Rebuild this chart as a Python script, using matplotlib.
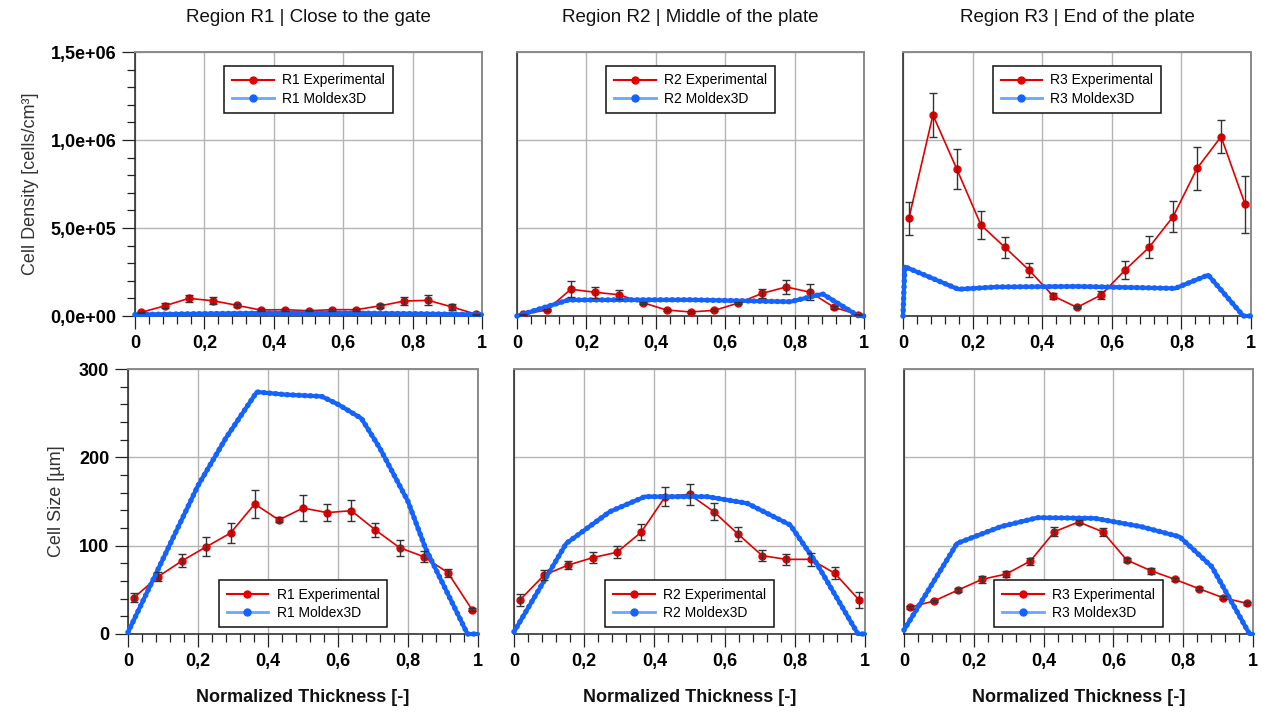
import matplotlib
matplotlib.use("Agg")
import matplotlib.pyplot as plt
from matplotlib.lines import Line2D
from matplotlib.ticker import MultipleLocator, FuncFormatter

plt.rcParams['font.family'] = ['Liberation Sans', 'DejaVu Sans']

# ---------------------------------------------------------------- data
regions = ["R1", "R2", "R3"]
titles = ["Region R1 | Close to the gate",
          "Region R2 | Middle of the plate",
          "Region R3 | End of the plate"]

# normalized thickness of the 15 measurement positions
x_exp = [0.017, 0.086, 0.155, 0.224, 0.293, 0.362, 0.431, 0.500,
         0.569, 0.638, 0.707, 0.776, 0.845, 0.914, 0.983]

# cell density, experimental [cells/cm3]
dens_exp_R1 = [0.020e6, 0.058e6, 0.100e6, 0.087e6, 0.061e6, 0.034e6, 0.036e6, 0.030e6,
               0.036e6, 0.036e6, 0.058e6, 0.085e6, 0.089e6, 0.051e6, 0.010e6]
dens_err_R1 = [0.005e6, 0.014e6, 0.020e6, 0.019e6, 0.010e6, 0.005e6, 0.005e6, 0.004e6,
               0.005e6, 0.005e6, 0.012e6, 0.021e6, 0.028e6, 0.017e6, 0.003e6]
dens_exp_R2 = [0.010e6, 0.034e6, 0.152e6, 0.135e6, 0.121e6, 0.076e6, 0.034e6, 0.023e6,
               0.032e6, 0.074e6, 0.129e6, 0.165e6, 0.135e6, 0.049e6, 0.008e6]
dens_err_R2 = [0.004e6, 0.006e6, 0.045e6, 0.032e6, 0.027e6, 0.006e6, 0.005e6, 0.004e6,
               0.005e6, 0.006e6, 0.025e6, 0.042e6, 0.045e6, 0.008e6, 0.003e6]
dens_exp_R3 = [0.555e6, 1.142e6, 0.833e6, 0.517e6, 0.390e6, 0.261e6, 0.114e6, 0.049e6,
               0.119e6, 0.261e6, 0.390e6, 0.564e6, 0.839e6, 1.019e6, 0.635e6]
dens_err_R3 = [0.095e6, 0.125e6, 0.114e6, 0.081e6, 0.058e6, 0.038e6, 0.017e6, 0.005e6,
               0.022e6, 0.051e6, 0.062e6, 0.089e6, 0.122e6, 0.092e6, 0.161e6]

# cell size, experimental [um]
size_exp_R1 = [41.1, 64.9, 83.0, 98.8, 114.3, 147.2, 129.1, 142.6,
               137.4, 139.6, 117.7, 97.7, 87.5, 69.4, 27.5]
size_err_R1 = [5.3, 5.0, 7.4, 10.9, 11.7, 16.2, 2.8, 14.3,
               9.4, 12.1, 7.9, 8.9, 6.2, 4.7, 1.5]
size_exp_R2 = [38.5, 66.8, 78.1, 86.4, 92.5, 115.1, 155.5, 158.1,
               138.5, 113.2, 88.7, 84.5, 84.5, 68.7, 38.5]
size_err_R2 = [6.6, 5.7, 4.2, 6.2, 7.0, 9.2, 10.4, 12.1,
               9.4, 7.5, 6.2, 6.2, 7.5, 6.6, 8.9]
size_exp_R3 = [30.2, 37.4, 49.8, 61.9, 67.9, 82.6, 115.8, 126.8,
               115.8, 83.8, 71.7, 61.9, 51.3, 41.1, 34.7]
size_err_R3 = [1.5, 1.5, 2.0, 3.7, 3.4, 4.0, 5.1, 2.8,
               4.5, 2.8, 3.4, 2.0, 1.5, 1.5, 1.5]

# Moldex3D simulated profiles (vertices of the through-thickness curves)
dens_sim_x_R1 = [0.0, 0.15, 0.35, 0.65, 0.85, 1.0]
dens_sim_R1 = [0.008e6, 0.012e6, 0.016e6, 0.016e6, 0.012e6, 0.008e6]
dens_sim_x_R2 = [0.0, 0.148, 0.50, 0.787, 0.881, 0.984, 1.0]
dens_sim_R2 = [0.0, 0.091e6, 0.092e6, 0.081e6, 0.125e6, 0.0, 0.0]
dens_sim_x_R3 = [0.0, 0.005, 0.159, 0.27, 0.50, 0.782, 0.877, 0.978, 1.0]
dens_sim_R3 = [0.0, 0.280e6, 0.152e6, 0.165e6, 0.168e6, 0.157e6, 0.233e6, 0.0, 0.0]

size_sim_x_R1 = [0.0, 0.10, 0.20, 0.28, 0.368, 0.45, 0.553, 0.60, 0.667, 0.72, 0.80, 0.85, 0.97, 1.0]
size_sim_R1 = [2, 85, 168, 222, 274, 271, 269, 260, 244, 210, 150, 97, 0, 0]
size_sim_x_R2 = [0.0, 0.149, 0.273, 0.373, 0.55, 0.664, 0.787, 0.862, 0.98, 1.0]
size_sim_R2 = [2.6, 102.6, 138.5, 155.5, 155.5, 148, 123.4, 80, 0, 0]
size_sim_x_R3 = [0.0, 0.152, 0.277, 0.383, 0.546, 0.68, 0.79, 0.882, 0.99, 1.0]
size_sim_R3 = [4.5, 102.6, 121.5, 131.7, 131.0, 121.5, 110.0, 76.2, 0, 0]

dens_exp = [dens_exp_R1, dens_exp_R2, dens_exp_R3]
dens_err = [dens_err_R1, dens_err_R2, dens_err_R3]
size_exp = [size_exp_R1, size_exp_R2, size_exp_R3]
size_err = [size_err_R1, size_err_R2, size_err_R3]
dens_sim = [(dens_sim_x_R1, dens_sim_R1), (dens_sim_x_R2, dens_sim_R2), (dens_sim_x_R3, dens_sim_R3)]
size_sim = [(size_sim_x_R1, size_sim_R1), (size_sim_x_R2, size_sim_R2), (size_sim_x_R3, size_sim_R3)]

# ---------------------------------------------------------------- style
RED = '#e40000'
BLUE = '#1463ff'
BLUE_LIGHT = '#6aa6ff'
GRID = '#b4b4b4'
FRAME = '#8a8a8a'

W, H = 1261, 712
fig = plt.figure(figsize=(W / 100, H / 100), dpi=100)


def px_axes(left, top, right, bottom):
    return fig.add_axes([left / W, 1 - bottom / H, (right - left) / W, (bottom - top) / H])


top_boxes = [(135, 52, 482, 316), (517, 52, 864, 316), (903, 52, 1251, 316)]
bot_boxes = [(128, 369, 478, 634), (514, 369, 865, 634), (904, 369, 1253, 634)]


def fmt_x(v, pos):
    if abs(v) < 1e-9:
        return '0'
    if abs(v - 1) < 1e-9:
        return '1'
    return f'{v:.1f}'.replace('.', ',')


def fmt_sci(v, pos):
    return f'{v:.1e}'.replace('.', ',')


def style_axes(ax, ymax, ymajor, yminor, show_ylabels, yfmt):
    ax.set_xlim(0, 1)
    ax.set_ylim(0, ymax)
    ax.xaxis.set_major_locator(MultipleLocator(0.2))
    ax.xaxis.set_minor_locator(MultipleLocator(0.04))
    ax.yaxis.set_major_locator(MultipleLocator(ymajor))
    ax.yaxis.set_minor_locator(MultipleLocator(yminor))
    ax.xaxis.set_major_formatter(FuncFormatter(fmt_x))
    ax.grid(True, which='major', color=GRID, lw=1.0)
    ax.set_axisbelow(True)
    for s in ('top', 'right'):
        ax.spines[s].set_color(FRAME)
        ax.spines[s].set_linewidth(1.4)
    for s in ('left', 'bottom'):
        ax.spines[s].set_color('#222222')
        ax.spines[s].set_linewidth(1.1)
    ax.tick_params(axis='x', which='major', direction='out', length=9.5, width=0.9,
                   color='#222222', pad=4, labelsize=13)
    ax.tick_params(axis='x', which='minor', direction='out', length=5.8, width=0.9,
                   color='#222222')
    for lab in ax.get_xticklabels():
        lab.set_fontweight('bold')
    if show_ylabels:
        ax.yaxis.set_major_formatter(yfmt)
        ax.tick_params(axis='y', which='major', direction='out', length=9.5, width=0.9,
                       color='#222222', pad=4, labelsize=13)
        ax.tick_params(axis='y', which='minor', direction='out', length=5.8, width=0.9,
                       color='#222222')
        for lab in ax.get_yticklabels():
            lab.set_fontweight('bold')
    else:
        ax.tick_params(axis='y', which='both', left=False, labelleft=False)


def draw_sim(ax, xs, ys):
    # continuous core plus a chain of round dots on top
    ax.plot(xs, ys, color=BLUE, lw=3.0, solid_capstyle='round', zorder=4, clip_on=False)
    ax.plot(xs, ys, color=BLUE, lw=4.0, linestyle=(0, (0.001, 1.05)),
            dash_capstyle='round', zorder=4, clip_on=False)


def draw_exp(ax, ys, errs):
    ax.plot(x_exp, ys, color=RED, lw=1.2, marker='o', ms=5, mfc=RED, mec=RED, zorder=3)
    ax.errorbar(x_exp, ys, yerr=errs, fmt='none', ecolor='#333333', elinewidth=1.0,
                capsize=2.8, capthick=1.0, zorder=5)


def add_legend(ax, region, loc, anchor):
    handles = [
        Line2D([], [], color=RED, lw=1.5, marker='o', ms=5, mfc=RED, mec=RED),
        Line2D([], [], color=BLUE_LIGHT, lw=2.0, marker='o', ms=5, mfc=BLUE, mec=BLUE),
    ]
    labels = [f'{region} Experimental', f'{region} Moldex3D']
    leg = ax.legend(handles, labels, loc=loc, bbox_to_anchor=anchor, fontsize=10,
                    frameon=True, fancybox=False, edgecolor='#111111', framealpha=1,
                    borderaxespad=0, handlelength=3.0, labelspacing=0.3,
                    borderpad=0.55, handletextpad=0.6)
    leg.get_frame().set_linewidth(1.1)
    leg.set_zorder(10)


for i, reg in enumerate(regions):
    # cell density row
    ax = px_axes(*top_boxes[i])
    style_axes(ax, 1.5e6, 5e5, 1e5, i == 0, FuncFormatter(fmt_sci))
    draw_exp(ax, dens_exp[i], dens_err[i])
    draw_sim(ax, *dens_sim[i])
    add_legend(ax, reg, 'upper center', (0.5, 0.948))
    if i == 0:
        ax.set_ylabel('Cell Density [cells/cm³]', fontsize=13, color='#333333', labelpad=8)
    l, t, r, b = top_boxes[i]
    fig.text((l + r) / 2 / W, 1 - 18 / H, titles[i], ha='center', va='center',
             fontsize=13.5, color='#111111')

    # cell size row
    ax = px_axes(*bot_boxes[i])
    style_axes(ax, 300, 100, 20, i == 0, FuncFormatter(lambda v, p: f'{v:.0f}'))
    draw_exp(ax, size_exp[i], size_err[i])
    draw_sim(ax, *size_sim[i])
    add_legend(ax, reg, 'lower center', (0.5, 0.025))
    if i == 0:
        ax.set_ylabel('Cell Size [µm]', fontsize=13, color='#333333', labelpad=10)
    l, t, r, b = bot_boxes[i]
    fig.text((l + r) / 2 / W, 1 - 697 / H, 'Normalized Thickness [-]', ha='center',
             va='center', fontsize=13, fontweight='bold', color='#111111')

fig.savefig('out.png', dpi=100)
